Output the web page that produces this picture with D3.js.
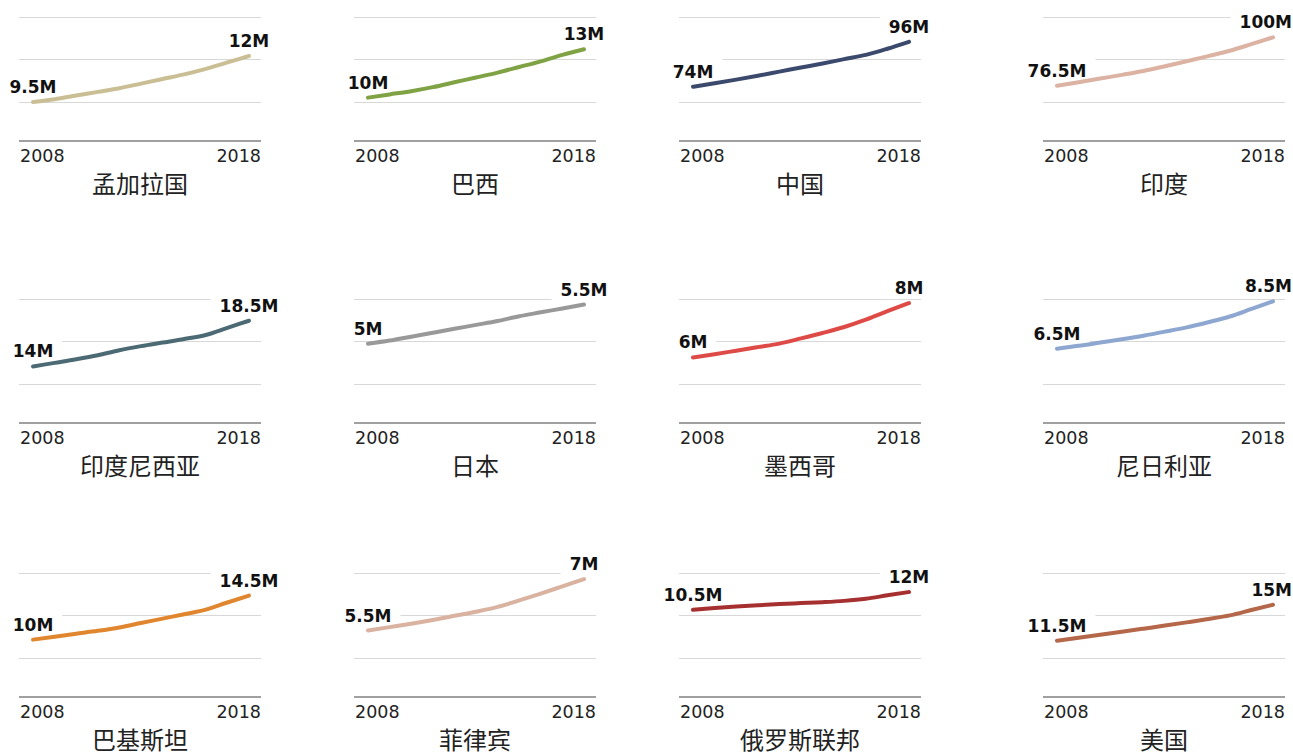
<!DOCTYPE html>
<html>
<head>
<meta charset="utf-8">
<script src="https://cdn.jsdelivr.net/npm/d3@7"></script>
<style>
  body { margin: 0; background: #fff; }
  .grid { stroke: #d8d8d8; stroke-width: 1; }
  .base { stroke: #a0a0a0; stroke-width: 2; }
  .year { font-family: "DejaVu Sans", sans-serif; font-size: 17.5px; fill: #222; }
  .lbl { font-family: "DejaVu Sans", sans-serif; font-size: 17px; font-weight: bold; fill: #111; }
  .title { font-family: "Noto Sans CJK SC", sans-serif; font-size: 24px; fill: #222; }
</style>
</head>
<body>
<script>
// small multiples, 2008-2018, values in millions

var years = [2008, 2009, 2010, 2011, 2012, 2013, 2014, 2015, 2016, 2017, 2018];

var countries = ["孟加拉国", "巴西", "中国", "印度",
                 "印度尼西亚", "日本", "墨西哥", "尼日利亚",
                 "巴基斯坦", "菲律宾", "俄罗斯联邦", "美国"];

var colors = ["#c9be94", "#7fa244", "#3b4a6c", "#dcb3a3",
              "#4b6a74", "#999999", "#de4b47", "#8ea7d1",
              "#e0862f", "#d9b2a0", "#a6302f", "#b5674a"];

var bangladesh  = [9.5, 9.65, 9.85, 10.05, 10.25, 10.5, 10.75, 11.0, 11.3, 11.65, 12.0];
var brazil      = [10.0, 10.2, 10.4, 10.65, 10.95, 11.25, 11.55, 11.9, 12.25, 12.65, 13.0];
var china       = [74, 75.7, 77.5, 79.4, 81.4, 83.4, 85.4, 87.5, 89.6, 92.6, 96];
var india       = [76.5, 78.2, 80, 81.8, 83.7, 86, 88.4, 90.9, 93.5, 96.7, 100];
var indonesia   = [14.0, 14.35, 14.7, 15.1, 15.6, 16.0, 16.35, 16.7, 17.1, 17.8, 18.5];
var japan       = [5.0, 5.04, 5.09, 5.14, 5.19, 5.24, 5.29, 5.35, 5.4, 5.45, 5.5];
var mexico      = [6.0, 6.12, 6.25, 6.38, 6.51, 6.7, 6.9, 7.12, 7.39, 7.7, 8.0];
var nigeria     = [6.5, 6.62, 6.76, 6.9, 7.05, 7.22, 7.4, 7.62, 7.86, 8.18, 8.5];
var pakistan    = [10.0, 10.3, 10.6, 10.9, 11.25, 11.7, 12.15, 12.6, 13.07, 13.8, 14.5];
var philippines = [5.5, 5.6, 5.7, 5.81, 5.93, 6.05, 6.19, 6.38, 6.58, 6.79, 7.0];
var russia      = [10.5, 10.65, 10.77, 10.88, 10.98, 11.06, 11.14, 11.25, 11.43, 11.72, 12.0];
var usa         = [11.5, 11.78, 12.07, 12.37, 12.67, 12.97, 13.28, 13.6, 13.96, 14.48, 15.0];

var series = [bangladesh, brazil, china, india, indonesia, japan,
              mexico, nigeria, pakistan, philippines, russia, usa];

// each panel has its own y axis: value at the baseline and at the top gridline
var yAxisLow  = [7.38, 7.31, 47.5, 49.7, 8.43, 3.99, 3.59, 3.36, 4.13, 3.56, 3.11, 6.03];
var yAxisHigh = [14.12, 15.0, 108.1, 109.9, 20.64, 5.57, 8.15, 8.6, 16.82, 7.18, 13.61, 18.08];

window.onload = function(){
    var w = 1293, h = 754;
    var pw = 242;                       // panel width
    var colLeft = [19, 354, 679, 1043]; // panel left edges
    var rowTop = [17, 299, 573];        // top gridline of each row
    var gridStep = 42.3, baseOff = 124;

    var svg = d3.select("body").append("svg")
        .attr("width", w)
        .attr("height", h);

    var x = d3.scaleLinear()
        .domain([years[0], years[years.length - 1]])
        .range([14, 230]);

    var fmt = function(v){ return (Math.round(v * 2) / 2) + "M"; };

    countries.forEach(function(name, i){
        var col = i % 4, row = Math.floor(i / 4);
        var left = colLeft[col];
        var g = svg.append("g")
            .attr("class", "panel")
            .attr("transform", "translate(" + left + "," + rowTop[row] + ")");

        var y = d3.scaleLinear()
            .domain([yAxisLow[i], yAxisHigh[i]])
            .range([baseOff, 0]);

        var data = years.map(function(yr, k){ return { year: yr, value: series[i][k] }; });

        // gridlines
        g.selectAll(".grid")
            .data([0, 1, 2])
            .enter().append("line")
            .attr("class", "grid")
            .attr("x1", 0).attr("x2", pw)
            .attr("y1", function(d){ return Math.round(d * gridStep) + 0.5; })
            .attr("y2", function(d){ return Math.round(d * gridStep) + 0.5; });

        g.append("line")
            .attr("class", "base")
            .attr("x1", 0).attr("x2", pw)
            .attr("y1", baseOff).attr("y2", baseOff);

        var knock = g.append("g").attr("class", "knock");
        var lineG = g.append("g");
        var lblG = g.append("g");

        // start / end labels
        var ends = [data[0], data[data.length - 1]];
        lblG.selectAll(".lbl")
            .data(ends)
            .enter().append("text")
            .attr("class", "lbl")
            .attr("text-anchor", "middle")
            .attr("x", function(d){ return x(d.year); })
            .attr("y", function(d){ return y(d.value) - 9; })
            .text(function(d){ return fmt(d.value); })
            .each(function(){
                var t = d3.select(this);
                var bb = this.getBBox();
                // keep inside the picture
                var over = left + bb.x + bb.width - (w - 1);
                if (over > 0) {
                    t.attr("x", +t.attr("x") - over);
                    bb = this.getBBox();
                }
                knock.append("rect")
                    .attr("x", bb.x - 9)
                    .attr("y", bb.y - 3)
                    .attr("width", bb.width + 18)
                    .attr("height", bb.height + 4)
                    .attr("fill", "#fff");
            });

        // line
        var line = d3.line()
            .x(function(d){ return x(d.year); })
            .y(function(d){ return y(d.value); })
            .curve(d3.curveMonotoneX);

        lineG.append("path")
            .datum(data)
            .attr("d", line)
            .attr("fill", "none")
            .attr("stroke", colors[i])
            .attr("stroke-width", 4)
            .attr("stroke-linecap", "round")
            .attr("stroke-linejoin", "round");

        // year ticks
        g.append("text")
            .attr("class", "year")
            .attr("x", 1)
            .attr("y", baseOff + 21)
            .text(years[0]);

        g.append("text")
            .attr("class", "year")
            .attr("text-anchor", "end")
            .attr("x", pw)
            .attr("y", baseOff + 21)
            .text(years[years.length - 1]);

        // country title
        g.append("text")
            .attr("class", "title")
            .attr("text-anchor", "middle")
            .attr("x", pw / 2)
            .attr("y", baseOff + 52)
            .text(name);
    });
};
</script>
</body>
</html>
